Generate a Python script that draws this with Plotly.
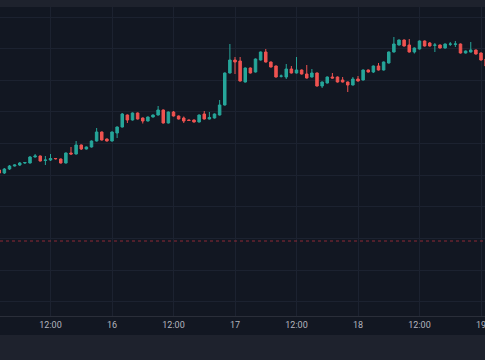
import pandas as pd
import plotly.graph_objects as go

# Hourly candles (price units)
times = list(pd.date_range("2024-03-15 02:00", periods=96, freq="h"))

opens = [230, 227, 231, 234, 235, 237, 237, 243, 244, 239.5, 240, 241.5, 241, 237, 247, 246,
         255, 251, 253, 259, 268, 261, 259, 267, 273, 285, 280, 287, 282, 279, 283, 285,
         290, 277, 288, 284, 282, 280, 280, 278, 286, 281, 282, 285, 295, 327, 340, 339,
         318, 332, 328, 340, 348, 338, 334, 323.8, 323, 331, 327, 330, 326, 323, 327, 314,
         317, 323, 323, 320, 318, 315, 321, 320, 330, 328, 334, 330, 337, 348, 355, 360,
         355, 348, 351, 359, 357, 354.7, 355, 352, 355.7, 355.7, 356, 347, 348, 350, 347, 341]
highs = [231, 232, 235, 235.5, 238, 238, 244, 246, 244.5, 244, 246, 242, 241.5, 247.5, 253, 259,
         255.5, 253.5, 259.5, 272, 268.5, 261.5, 268.5, 273.5, 287, 285.5, 287.5, 287.5, 282.5, 283.5, 285.5, 294,
         290.5, 288.5, 289, 284.5, 283.5, 280.5, 280.5, 285.5, 289, 288, 286.5, 300, 327.5, 356, 343, 343,
         332.5, 332.5, 341.5, 348.5, 351, 338.5, 334.5, 325.5, 336, 334, 343, 330.5, 335, 331, 327.5, 318.5,
         323.5, 327, 323.5, 323, 318.5, 323, 324, 330.5, 330.5, 334.5, 337, 338.5, 348.5, 363, 360.5, 360.5,
         361, 352.5, 359.5, 359.5, 358, 357, 355.5, 356.5, 358, 359, 356.5, 349.5, 358, 350.5, 347.5, 341.5]
lows = [226, 226, 230, 233.5, 234, 236, 236.5, 242.5, 238.5, 235, 239, 240.5, 236.5, 236.5, 245.5, 245.5,
        250, 250.5, 252.5, 258.5, 259.5, 258.5, 258.5, 262, 272.5, 277, 279.5, 280.5, 276.5, 278.5, 282.5, 284.5,
        276.5, 276.5, 283.5, 280.5, 277, 279, 277.5, 277.5, 280.5, 280.5, 281.5, 284.5, 294.5, 326.5, 326, 318.5,
        317.5, 326.5, 327.5, 339.5, 337.5, 332.5, 322.5, 322.5, 321, 326.5, 326.5, 325.5, 321.5, 322.5, 313.5, 312,
        316.5, 321.5, 317.5, 317.5, 308, 314.5, 318.5, 319.5, 327.5, 327, 329.5, 329.5, 336.5, 347.5, 354.5, 353.5,
        347.5, 346.5, 350.5, 353.5, 353.5, 348, 351.5, 351.5, 354, 353, 346.5, 346.5, 347.5, 345.5, 339.5, 333.5]
closes = [227, 231, 234, 235, 237, 237.5, 243, 244, 239, 240, 241.5, 241.3, 237, 247, 246, 255,
          251, 253, 259, 268, 260, 259, 268, 273, 286, 280, 287, 281, 279, 283, 285, 290,
          277, 288, 284, 281, 279, 279.5, 278, 285, 281, 282.5, 286, 295, 327, 340, 338, 319,
          332, 327, 341, 348, 338, 333, 323, 324, 331, 327, 330, 326, 322, 327, 314, 318,
          323, 322, 318, 318, 315, 321, 319, 330, 328, 334, 330, 338, 348, 356, 360, 354,
          348, 352, 359, 354, 354, 355, 352, 356, 356, 356, 347, 349, 350, 346, 340, 334]

ref_level = 159  # dotted red horizontal line

tick_vals = pd.to_datetime(["2024-03-15 12:00", "2024-03-16 00:00", "2024-03-16 12:00",
                            "2024-03-17 00:00", "2024-03-17 12:00", "2024-03-18 00:00",
                            "2024-03-18 12:00", "2024-03-19 00:00"])
tick_text = ["12:00", "16", "12:00", "17", "12:00", "18", "12:00", "19"]

BG = "#121722"
PANEL = "#1e222d"
GRID = "#1c2230"
UP = "#26a69a"
DOWN = "#ef5350"

fig = go.Figure()
fig.add_trace(go.Candlestick(
    x=times, open=opens, high=highs, low=lows, close=closes,
    increasing=dict(line=dict(color=UP, width=1), fillcolor=UP),
    decreasing=dict(line=dict(color=DOWN, width=1), fillcolor=DOWN),
    whiskerwidth=0, hoverinfo="skip", showlegend=False,
))

fig.add_hline(y=ref_level, line=dict(color="rgba(242,54,69,0.55)", width=1, dash="dot"))

# top bar and bottom panel
fig.add_shape(type="rect", xref="paper", yref="paper", x0=-0.01, x1=1.01,
              y0=1.0, y1=1.03, fillcolor=PANEL, line=dict(width=0), layer="above")
fig.add_shape(type="rect", xref="paper", yref="paper", x0=-0.01, x1=1.01,
              y0=-0.1424, y1=-0.0615, fillcolor=PANEL, line=dict(width=0), layer="above")

fig.update_layout(
    width=485, height=360,
    margin=dict(l=0, r=0, t=7, b=44, autoexpand=False),
    paper_bgcolor=BG, plot_bgcolor=BG,
    font=dict(family="Roboto, Inter, sans-serif", size=9, color="#b2b5be"),
    showlegend=False,
    xaxis=dict(
        range=[pd.Timestamp("2024-03-15 02:08:45"), pd.Timestamp("2024-03-19 00:46:50")],
        rangeslider=dict(visible=False),
        tickmode="array", tickvals=tick_vals, ticktext=tick_text,
        ticklabeloverflow="allow",
        showgrid=True, gridcolor=GRID, gridwidth=1,
        showline=True, linecolor="#2a2e39", linewidth=1,
        ticks="", zeroline=False, fixedrange=True, automargin=False,
    ),
    yaxis=dict(
        range=[84, 393],
        tick0=98.15, dtick=31.65,
        showgrid=True, gridcolor=GRID, gridwidth=1,
        showticklabels=False, zeroline=False, ticks="", fixedrange=True, automargin=False,
    ),
)

fig.write_html(
    "out.html",
    config={"displayModeBar": False, "staticPlot": True},
    post_script="document.body.style.margin='0';document.body.style.background='#121722';",
)
